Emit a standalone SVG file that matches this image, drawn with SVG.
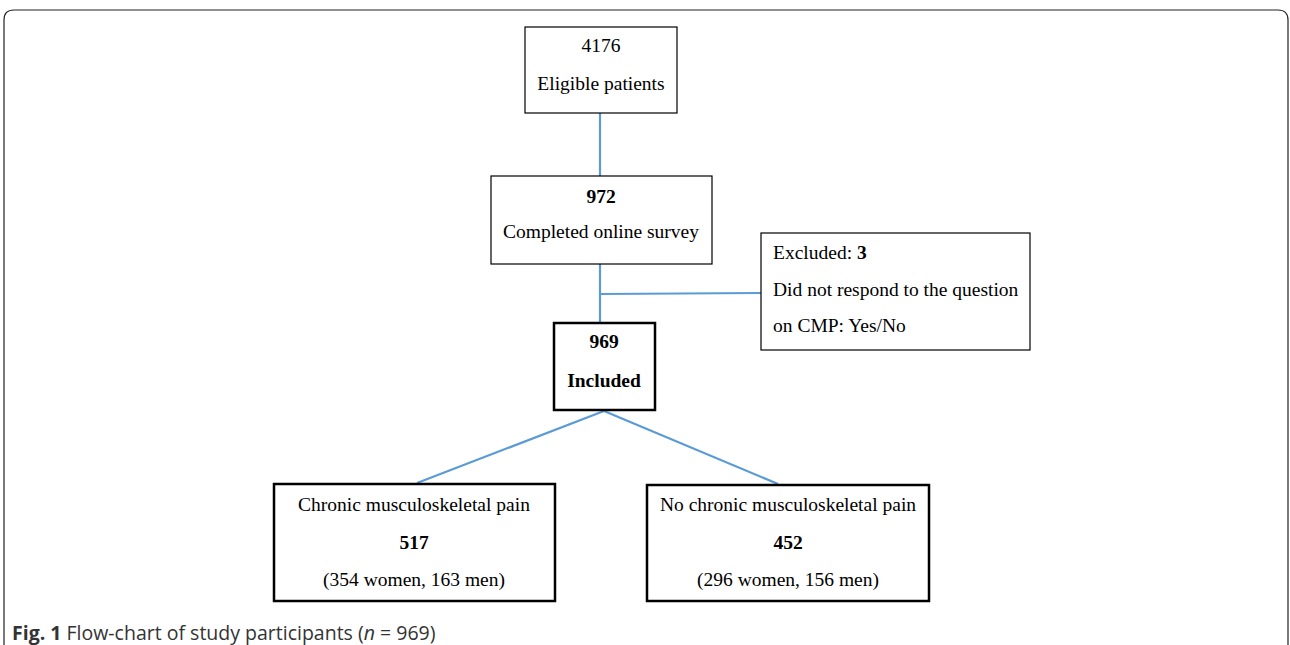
<svg xmlns="http://www.w3.org/2000/svg" width="1290" height="645" viewBox="0 0 1290 645">
<style>
.box{fill:#fff;stroke:#000;stroke-width:1.2}
.thick{fill:#fff;stroke:#000;stroke-width:2.5}
.t{font-family:"Liberation Serif",serif;font-size:19.5px;fill:#000}
.c{text-anchor:middle}
.b{font-weight:bold}
.con{stroke:#5B9BD5;stroke-width:2.2;fill:none}
.cap{font-family:"Open Sans","Noto Sans",sans-serif;font-size:19.5px;fill:#333}
</style>
<rect width="1290" height="645" fill="#fff"/>
<path d="M4,660 L4,20 Q4,10 14,10 L1278,10 Q1288,10 1288,20 L1288,660" fill="none" stroke="#222" stroke-width="1.2"/>
<g id="connectors">
<line class="con" x1="600" y1="113" x2="600" y2="176"/>
<line class="con" x1="600" y1="264" x2="600" y2="323"/>
<line class="con" x1="600" y1="294" x2="761" y2="293"/>
<line class="con" x1="604" y1="411" x2="417" y2="483"/>
<line class="con" x1="604" y1="411" x2="778" y2="484"/>
</g>
<g id="eligible">
<rect class="box" x="525" y="27" width="152" height="86"/>
<text class="t c" x="601" y="52">4176</text>
<text class="t c" x="601" y="90">Eligible patients</text>
</g>
<g id="completed">
<rect class="box" x="491" y="176" width="221" height="88"/>
<text class="t c b" x="601" y="203">972</text>
<text class="t c" x="601" y="238">Completed online survey</text>
</g>
<g id="excluded">
<rect class="box" x="761" y="233" width="269" height="117"/>
<text class="t" x="773" y="259">Excluded: <tspan class="b">3</tspan></text>
<text class="t" x="773" y="296">Did not respond to the question</text>
<text class="t" x="773" y="332">on CMP: Yes/No</text>
</g>
<g id="included">
<rect class="thick" x="554" y="323" width="101" height="87"/>
<text class="t c b" x="604" y="348">969</text>
<text class="t c b" x="604" y="387">Included</text>
</g>
<g id="cmp">
<rect class="thick" x="274" y="484" width="281" height="117"/>
<text class="t c" x="414" y="511">Chronic musculoskeletal pain</text>
<text class="t c b" x="414" y="549">517</text>
<text class="t c" x="414" y="586">(354 women, 163 men)</text>
</g>
<g id="nocmp">
<rect class="thick" x="647" y="485" width="282" height="116"/>
<text class="t c" x="788" y="511">No chronic musculoskeletal pain</text>
<text class="t c b" x="788" y="549">452</text>
<text class="t c" x="788" y="586">(296 women, 156 men)</text>
</g>
<text class="cap" x="12" y="640"><tspan font-weight="bold">Fig. 1</tspan> Flow-chart of study participants (<tspan font-style="italic">n</tspan> = 969)</text>
</svg>
